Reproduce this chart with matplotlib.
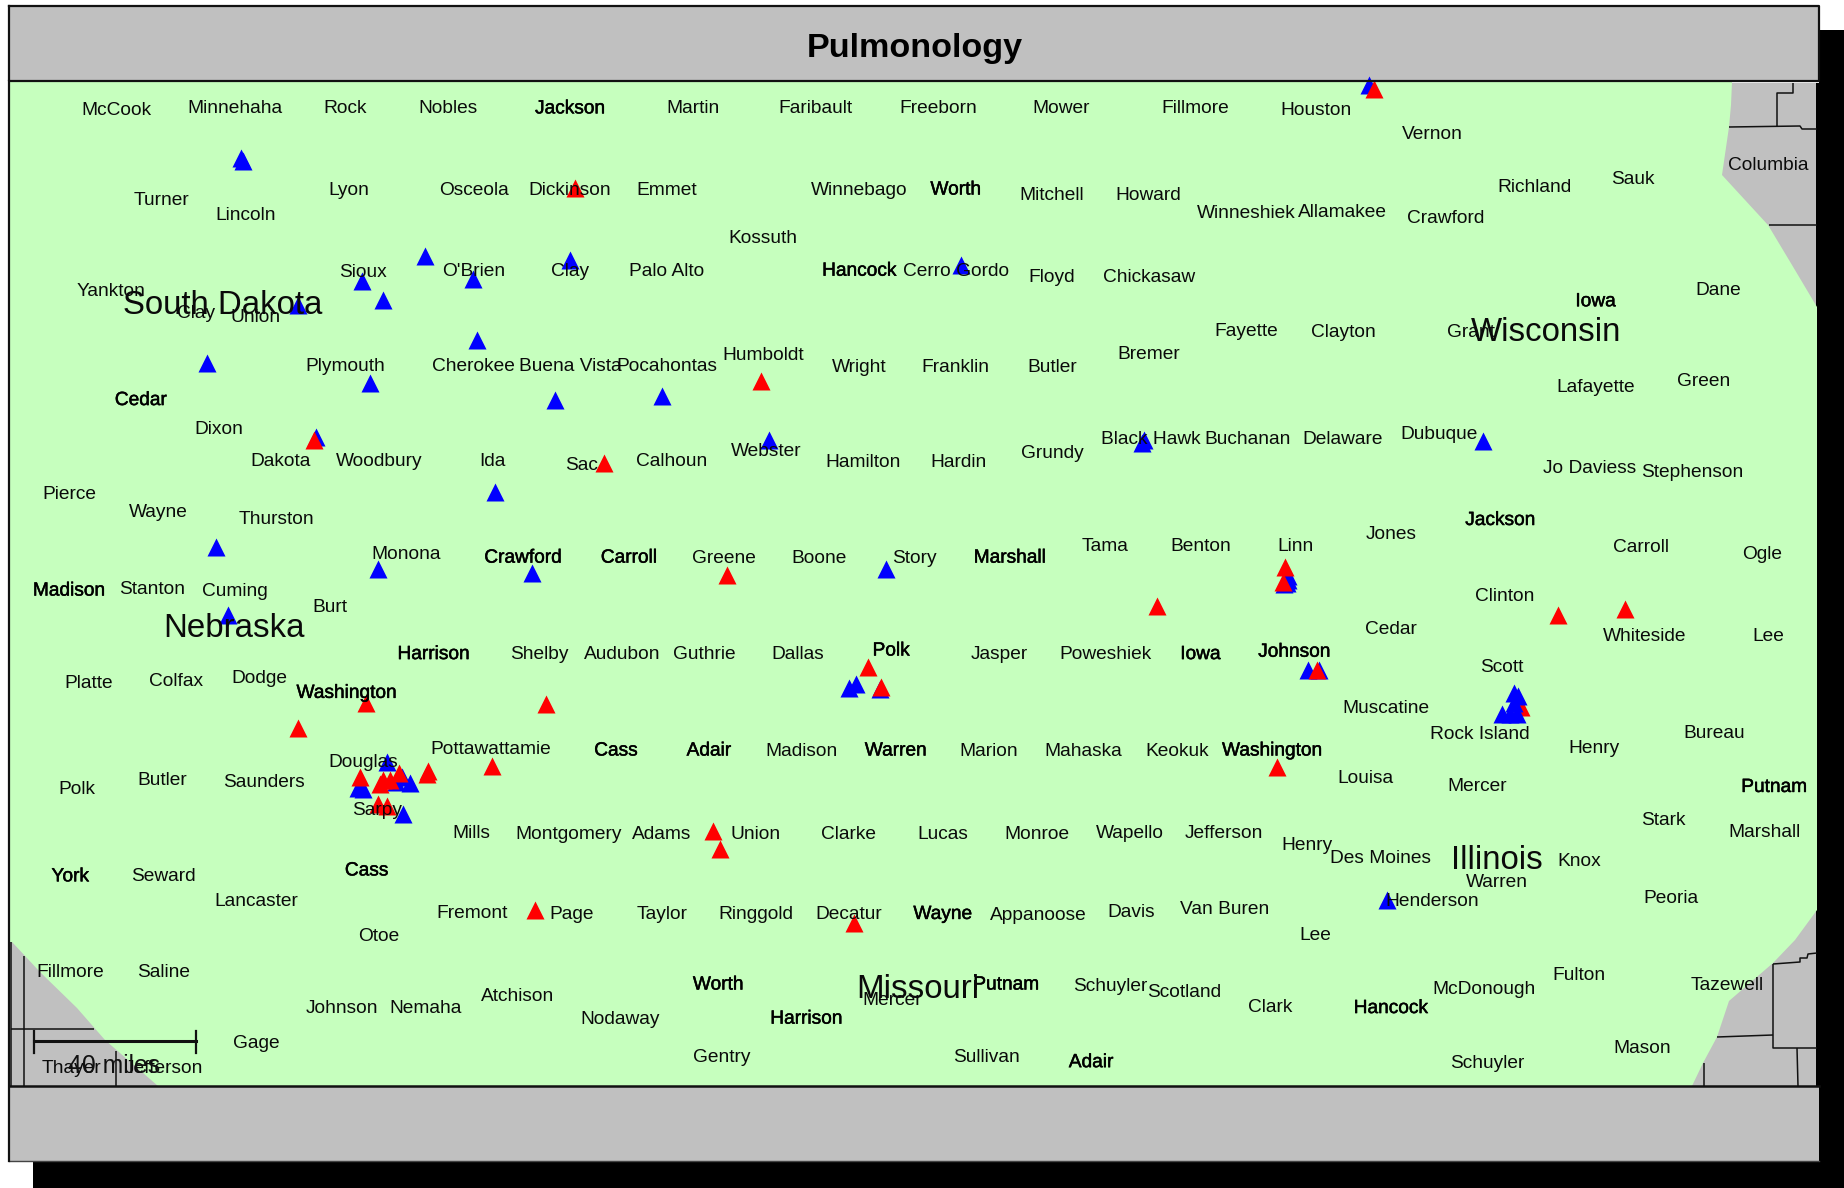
import matplotlib
matplotlib.use("Agg")
import matplotlib.pyplot as plt
from matplotlib.patches import Rectangle, Polygon
import matplotlib.patheffects as pe

plt.rcParams['font.family'] = ['Liberation Sans', 'DejaVu Sans']

TITLE = "Pulmonology"
S = 1844 / 1568
DY = 1.6
DX = 0.7

state_labels = [("South Dakota",189,258),("Wisconsin",1314,281),("Nebraska",198,533),("Illinois",1272,730),("Missouri",780,840)]

county_labels = [
("McCook",98,92),("Minnehaha",199,91),("Rock",293,91),("Nobles",380,91),("Martin",589,91),("Faribault",693,91),("Freeborn",797,91),("Mower",902,91),("Fillmore",1016,91),("Houston",1118,92),("Vernon",1217,113),("Columbia",1503,139),("Sauk",1388,151),("Richland",1304,158),("Crawford",1229,184),("Allamakee",1141,179),("Winneshiek",1059,180),("Howard",976,165),("Mitchell",894,165),("Winnebago",730,160),("Emmet",566,160),("Dickinson",484,160),("Osceola",402,160),("Lyon",296,160),("Turner",137,169),("Lincoln",208,182),("Kossuth",648,201),("Sioux",308,230),("O'Brien",402,229),("Clay",484,229),("Palo Alto",566,229),("Cerro Gordo",812,229),("Floyd",894,234),("Chickasaw",976,234),("Yankton",94,246),("Dane",1460,245),("Clay",166,265),("Union",217,268),("Fayette",1059,280),("Clayton",1142,281),("Grant",1250,281),("Plymouth",293,310),("Cherokee",402,310),("Buena Vista",484,310),("Pocahontas",566,310),("Humboldt",648,301),("Wright",730,311),("Franklin",812,311),("Butler",894,311),("Bremer",976,300),("Green",1448,323),("Lafayette",1356,328),("Dixon",185,364),("Dakota",238,391),("Woodbury",322,391),("Ida",418,391),("Sac",494,394),("Calhoun",570,391),("Webster",651,382),("Hamilton",733,392),("Hardin",814,392),("Grundy",894,384),("Black Hawk",978,372),("Buchanan",1060,372),("Delaware",1141,372),("Dubuque",1223,368),("Jo Daviess",1351,397),("Stephenson",1438,400),("Pierce",58,419),("Wayne",134,434),("Thurston",234,440),("Jones",1182,453),("Linn",1101,463),("Benton",1020,463),("Tama",939,463),("Carroll",1395,464),("Ogle",1498,470),("Monona",345,470),("Greene",615,473),("Boone",696,473),("Story",777,473),("Stanton",129,500),("Cuming",199,501),("Burt",280,515),("Clinton",1279,506),("Whiteside",1398,540),("Cedar",1182,534),("Lee",1503,540),("Shelby",458,555),("Audubon",528,555),("Guthrie",598,555),("Dallas",678,555),("Jasper",849,555),("Poweshiek",939,555),("Scott",1276,566),("Platte",75,580),("Colfax",149,578),("Dodge",220,575),("Muscatine",1178,601),("Rock Island",1258,623),("Bureau",1457,622),("Henry",1355,635),("Pottawattamie",417,636),("Madison",681,637),("Marion",840,637),("Mahaska",920,637),("Keokuk",1000,637),("Douglas",308,647),("Louisa",1160,660),("Polk",65,670),("Butler",137,662),("Saunders",224,664),("Mercer",1255,667),("Stark",1414,696),("Marshall",1500,706),("Sarpy",320,688),("Mills",400,707),("Montgomery",483,708),("Adams",562,708),("Union",642,708),("Clarke",721,708),("Lucas",801,708),("Monroe",881,708),("Wapello",960,707),("Jefferson",1040,707),("Henry",1111,717),("Des Moines",1173,728),("Knox",1342,731),("Warren",1272,749),("Seward",138,744),("Lancaster",217,765),("Henderson",1217,765),("Peoria",1420,762),("Fremont",401,775),("Page",485,776),("Taylor",562,776),("Ringgold",642,776),("Decatur",721,776),("Appanoose",882,777),("Davis",961,774),("Van Buren",1041,772),("Lee",1118,794),("Otoe",321,795),("Fillmore",59,825),("Saline",138,825),("Fulton",1342,828),("Tazewell",1468,836),("McDonough",1261,840),("Schuyler",943,837),("Scotland",1006,842),("Clark",1079,855),("Mercer",758,849),("Johnson",290,856),("Nemaha",361,856),("Atchison",439,846),("Nodaway",527,865),("Gage",217,886),("Mason",1396,890),("Sullivan",838,898),("Gentry",613,898),("Schuyler",1264,903),("Thayer",60,907),("Jefferson",139,907),
]

# Labels that appear darker in the source (overprinted)
dark_labels = [
("Jackson",484,91),("Worth",812,160),("Hancock",730,229),("Iowa",1356,255),("Cedar",119,339),("Jackson",1275,441),("Crawford",444,473),("Carroll",534,473),("Marshall",858,473),("Madison",58,501),("Harrison",368,555),("Polk",757,552),("Iowa",1020,555),("Johnson",1100,553),("Washington",294,588),("Cass",523,637),("Adair",602,637),("Warren",761,637),("Washington",1081,637),("Putnam",1508,668),("York",59,744),("Cass",311,739),("Wayne",801,776),("Worth",610,836),("Putnam",855,836),("Harrison",685,865),("Hancock",1182,856),("Adair",927,902),
]

blue_x = [205,207,361,485,817,308,402,326,253,406,176,315,472,563,654,269,421,184,321,452,194,753,971,973,1261,1095,1095,1094,1092,1112,1122,722,728,748,1164,329,304,309,343,342,349,337,1179]
blue_y = [134,137,218,221,225,239,237,255,259,289,309,326,340,337,374,372,418,465,484,487,523,484,377,374,375,490,493,496,497,570,570,585,582,586,72,648,670,671,692,661,666,665,765]
red_x = [1168,489,647,267,514,618,984,1093,1091,1325,1382,1120,738,749,311,464,253,418,364,363,306,323,326,332,339,321,329,1086,606,612,455,726]
red_y = [76,160,324,374,394,489,515,482,495,523,518,570,567,584,598,599,619,651,656,658,661,667,663,663,657,684,685,652,707,722,774,785]

# Rock Island group: here the red mark lies under the blue ones
red_under_x = [1293]
red_under_y = [601]
blue_over_x = [1287,1291,1287,1277,1284,1290]
blue_over_y = [589,592,598,607,607,607]

# Edge of the covered area and the county lines outside it
green_x = [10,1732,1731,1729,1722,1745,1768,1792,1817,1817,1795,1773,1729,1717,1703,1692,158,105,77,40,12,10]
green_y = [82,82,105,127,175,200,225,265,307,910,940,963,1001,1037,1063,1086,1086,1040,1008,972,942,942]
county_lines = [
[(1793,83),(1793,93),(1777,93),(1777,127)],
[(1729,127),(1800,126),(1802,129),(1817,129)],
[(1769,225),(1817,225)],
[(1773,964),(1800,962),(1800,958),(1807,958),(1808,954),(1817,953)],
[(1773,964),(1773,1048),(1817,1048)],
[(1717,1037),(1773,1035)],
[(1797,1048),(1798,1086)],
[(1704,1063),(1704,1086)],
[(24,956),(24,1086)],
[(11,1029),(94,1029)],
[(116,1051),(116,1086)],
[(11,942),(11,1086)],
]

fig = plt.figure(figsize=(18.44, 11.88), dpi=100, facecolor="white")
ax = fig.add_axes([0, 0, 1, 1])
ax.set_xlim(0, 1844)
ax.set_ylim(1188, 0)
ax.axis("off")

GRAY = "#c0c0c0"
GREEN = "#c6ffbe"
ax.add_patch(Rectangle((33, 30), 1811, 1158, fc="black", ec="none", zorder=0))
ax.add_patch(Rectangle((9, 6), 1810, 1155, fc=GRAY, ec="none", zorder=1))
ax.add_patch(Rectangle((1816, 83), 4, 1003, fc="black", ec="none", zorder=1.2))
ax.add_patch(Rectangle((9, 81), 1810, 2, fc="white", ec="none", zorder=1.1))
ax.add_patch(Polygon(list(zip(green_x, green_y)), closed=True, fc=GREEN, ec="none", zorder=2))
for seg in county_lines:
    ax.plot([p[0] for p in seg], [p[1] for p in seg], color="#111111", lw=1.1, zorder=3, solid_capstyle="butt")

MS = 13
ax.plot([x * S for x in blue_x], [y * S for y in blue_y], ls="none", marker="^", ms=MS, mfc="#0000ff", mec="none", zorder=4)
ax.plot([x * S for x in red_x], [y * S for y in red_y], ls="none", marker="^", ms=MS, mfc="#ff0000", mec="none", zorder=5)
ax.plot([x * S for x in red_under_x], [y * S for y in red_under_y], ls="none", marker="^", ms=MS, mfc="#ff0000", mec="none", zorder=3.5)
ax.plot([x * S for x in blue_over_x], [y * S for y in blue_over_y], ls="none", marker="^", ms=MS, mfc="#0000ff", mec="none", zorder=4)

for name, x, y in county_labels:
    ax.text((x + DX) * S, (y + DY) * S, name, fontsize=13.75, color="#0a0a0a", ha="center", va="center", zorder=6)
for name, x, y in dark_labels:
    ax.text((x + DX) * S, (y + DY) * S, name, fontsize=13.75, color="black", ha="center", va="center", zorder=6,
            path_effects=[pe.withStroke(linewidth=0.35, foreground="black")])
for name, x, y in state_labels:
    ax.text((x + DX) * S, (y + DY) * S, name, fontsize=23.8, color="#0a0a0a", ha="center", va="center", zorder=6)

# Frame, title band and bottom band
ax.plot([9, 1819, 1819, 9, 9], [6, 6, 81, 81, 6], color="#111111", lw=1.6, zorder=7)
ax.plot([9, 1819], [1086, 1086], color="#111111", lw=1.8, zorder=7)
ax.plot([9, 1819], [1161, 1161], color="#444444", lw=1.0, zorder=7)
ax.plot([9, 9], [81, 1161], color="#111111", lw=1.6, zorder=7)
ax.text(915, 48, TITLE, fontsize=24.6, fontweight="bold", color="black", ha="center", va="center", zorder=8)

# Scale bar
ax.plot([34, 196], [1041, 1041], color="#111111", lw=2.2, zorder=8)
ax.plot([34, 34], [1031, 1053], color="#111111", lw=1.6, zorder=8)
ax.plot([196, 196], [1031, 1053], color="#111111", lw=1.6, zorder=8)
ax.text(114, 1066, "40 miles", fontsize=17.8, color="#111111", ha="center", va="center", zorder=8)

fig.savefig("out.png", dpi=100, facecolor="white")
